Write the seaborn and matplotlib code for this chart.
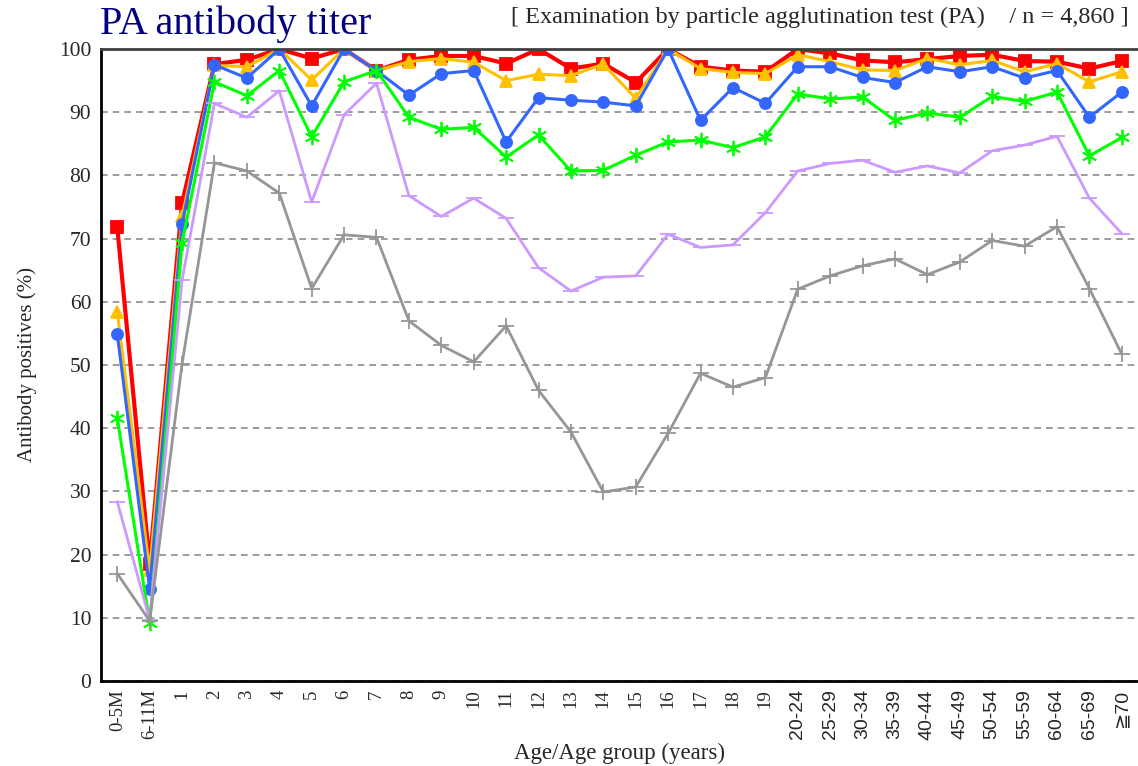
import matplotlib
matplotlib.use("Agg")
import matplotlib.pyplot as plt
import numpy as np
import pandas as pd
import seaborn as sns

ages = ["0-5M", "6-11M", "1", "2", "3", "4", "5", "6", "7", "8", "9", "10",
        "11", "12", "13", "14", "15", "16", "17", "18", "19",
        "20-24", "25-29", "30-34", "35-39", "40-44", "45-49", "50-54",
        "55-59", "60-64", "65-69", "≧70"]

# positive rate (%) per titer cut-off, lowest cut-off first
red_vals = [71.8, 18.5, 75.6, 97.6, 98.3, 100, 98.5, 100, 96.6, 98.3, 98.9, 98.9,
            97.7, 100, 96.9, 97.7, 94.7, 100, 97.2, 96.6, 96.4,
            100, 99.3, 98.2, 97.9, 98.4, 98.9, 99.1, 98.1, 98.0, 96.9, 98.1]
orange_vals = [58.4, 17.5, 73.5, 97.4, 97.2, 100, 95.1, 100, 96.6, 98.0, 98.5, 97.9,
               95.0, 96.0, 95.8, 97.6, 92.2, 100, 96.9, 96.3, 96.1,
               99.1, 98.0, 96.7, 96.6, 98.5, 97.5, 98.2, 96.4, 97.7, 94.8, 96.4]
blue_vals = [54.9, 14.6, 72.3, 97.5, 95.4, 100, 91.0, 100, 96.6, 92.7, 96.1, 96.6,
             85.3, 92.3, 91.9, 91.6, 91.0, 100, 88.7, 93.9, 91.4,
             97.2, 97.2, 95.5, 94.7, 97.2, 96.4, 97.2, 95.4, 96.6, 89.2, 93.2]
green_vals = [41.6, 9.2, 69.3, 94.8, 92.6, 96.6, 86.1, 94.8, 96.6, 89.2, 87.3, 87.6,
              82.9, 86.4, 80.7, 80.8, 83.2, 85.3, 85.6, 84.4, 86.1,
              92.9, 92.1, 92.4, 88.7, 89.9, 89.2, 92.5, 91.7, 93.2, 83.1, 86.0]
purple_vals = [28.4, 9.7, 63.4, 91.4, 89.2, 93.4, 75.8, 89.6, 94.6, 76.8, 73.5, 76.4,
               73.2, 65.4, 61.7, 63.9, 64.1, 70.7, 68.6, 69.0, 74.1,
               80.7, 81.9, 82.4, 80.5, 81.5, 80.4, 83.9, 84.8, 86.2, 76.4, 70.8]
gray_vals = [17.0, 9.5, 50.2, 82.0, 80.7, 77.2, 62.1, 70.6, 70.2, 57.0, 53.1, 50.5,
             56.2, 46.0, 39.4, 29.9, 30.7, 39.2, 48.7, 46.5, 48.0,
             62.0, 64.1, 65.7, 66.8, 64.3, 66.3, 69.7, 68.8, 71.9, 62.1, 51.7]

sns.set_style("white")
plt.rcParams["font.family"] = ["Liberation Serif", "DejaVu Sans"]

# (values, color, marker, marker size, line width), drawn bottom to top
series = [
    (red_vals, "#ff0000", "s", 8, 3.0),
    (orange_vals, "#ffc000", "^", 9, 2.2),
    (blue_vals, "#3366ff", "o", 8, 2.2),
    (green_vals, "#00ff00", (6, 2, 0), 11, 2.2),
    (purple_vals, "#cc99ff", "_", 11, 2.0),
    (gray_vals, "#969696", "+", 11, 2.0),
]

fig = plt.figure(figsize=(11.38, 7.66), dpi=100)
ax = fig.add_axes([0.0888, 0.111, 0.9112, 0.825])

pos = np.arange(len(ages))
for vals, color, marker, ms, lw in series:
    df = pd.DataFrame({"pos": pos, "val": vals})
    sns.lineplot(data=df, x="pos", y="val", ax=ax, color=color, marker=marker,
                 markersize=ms, linewidth=lw, markeredgecolor=color,
                 markeredgewidth=1.3, sort=False, legend=False)

ax.set_xlim(-0.5, 31.5)
ax.set_ylim(0, 100)
ax.set_yticks(range(0, 101, 10))
ax.tick_params(axis="y", labelsize=15.5, length=4, direction="in", pad=7)
ax.set_xticks(pos)
ax.set_xticklabels(ages, rotation=90, fontsize=13.5)
ax.tick_params(axis="x", length=0, pad=6)
# the age-group labels from 20-24 on are set in a sans face
for lab in ax.get_xticklabels()[21:]:
    lab.set_fontfamily(["Liberation Sans", "DejaVu Sans"])
    lab.set_fontsize(14)
ax.yaxis.grid(True, linestyle=(0, (4, 3)), color="#8c8c8c", linewidth=1.2)
ax.set_axisbelow(True)

for side in ["left", "bottom"]:
    ax.spines[side].set_color("black")
    ax.spines[side].set_linewidth(2)
ax.spines["top"].set_color("#404040")
ax.spines["top"].set_linewidth(2)
ax.spines["right"].set_visible(False)

ax.set_xlabel("Age/Age group (years)", fontsize=16.5, labelpad=2)
ax.set_ylabel("Antibody positives (%)", fontsize=15, labelpad=16)

fig.text(0.088, 0.955, "PA antibody titer", fontsize=29, color="#000080",
         ha="left", va="baseline")
fig.text(0.992, 0.970, "[ Examination by particle agglutination test (PA)    / n = 4,860 ]",
         fontsize=17.5, ha="right", va="baseline")

fig.savefig("out.png", dpi=100)
plt.close(fig)
